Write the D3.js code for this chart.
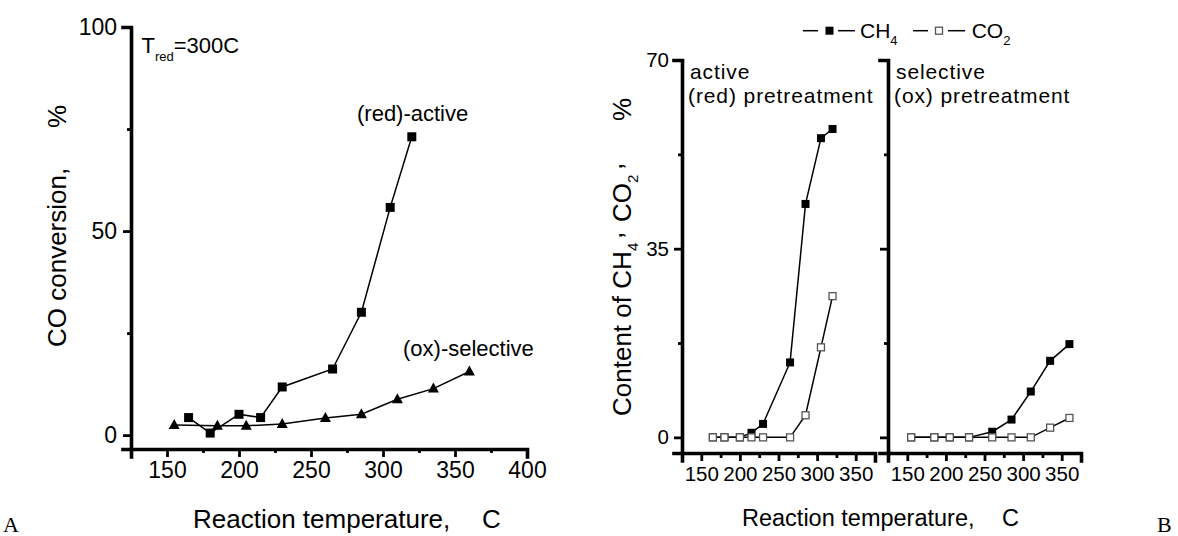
<!DOCTYPE html>
<html><head><meta charset="utf-8">
<script src="https://cdn.jsdelivr.net/npm/d3@7"></script>
<style>
html,body{margin:0;padding:0;background:#fff;}
svg{display:block;font-family:"Liberation Sans",Arial,sans-serif;}
</style></head>
<body><svg id="c" width="1178" height="536"></svg>
<script>
// ---------- DATA ----------
// Panel A: CO conversion (%)
const aRedTemps = [165,180,200,215,230,265,285,305,320];
const aRedConv  = [4.3,0.5,5.1,4.3,11.8,16.2,30.1,55.8,73.1];
const aOxTemps  = [155,185,205,230,260,285,310,335,360];
const aOxConv   = [2.5,2.3,2.3,2.7,4.2,5.1,8.8,11.4,15.6];
// Panel B: CH4 / CO2 content (%)
const bRedTemps = [165,180,200,215,230,265,285,305,320];
const bRedCH4   = [0,0,0,0.85,2.5,13.9,43.3,55.5,57.2];
const bRedCO2   = [0,0,0,0,0,0,4.1,16.7,26.2];
const bOxTemps  = [155,185,205,230,260,285,310,335,360];
const bOxCH4    = [0,0,0,0,1.05,3.3,8.5,14.2,17.3];
const bOxCO2    = [0,0,0,0,0,0,0,1.8,3.6];
// Tick labels
const aXTicks = [150,200,250,300,350,400];
const aYTicks = [0,50,100];
const bXTicks = [150,200,250,300,350];
const bYTicks = [0,35,70];

// ---------- DRAW ----------
const svg = d3.select("#c");

function styleAxis(g, fontSize, majors, majorLen, minorLen, dir){
  g.select(".domain").attr("stroke","#000").attr("stroke-width",3.6).attr("stroke-linecap","square");
  g.selectAll(".tick line").attr("stroke","#000").attr("stroke-width",2.8)
    .each(function(d){
      const len = majors.includes(d) ? majorLen : minorLen;
      if(dir==="x") d3.select(this).attr("y2", len);
      else d3.select(this).attr("x2", -len);
    });
  g.selectAll(".tick text").attr("fill","#000").attr("font-size",fontSize)
    .attr("font-family","Liberation Sans, Arial, sans-serif");
}

// ===== Panel A =====
const xA = d3.scaleLinear().domain([125,400]).range([131,527]);
const yA = d3.scaleLinear().domain([-3.4,100]).range([449,27]);

const gAx = svg.append("g").attr("transform","translate(0,449)")
  .call(d3.axisBottom(xA).tickValues(d3.range(125,401,25)).tickSizeOuter(0).tickSize(8).tickPadding(5)
  .tickFormat(d => aXTicks.includes(d) ? d : ""));
styleAxis(gAx, 23, aXTicks, 8, 4, "x");

const gAy = svg.append("g").attr("transform","translate(131,0)")
  .call(d3.axisLeft(yA).tickValues([0,25,50,75,100]).tickSizeOuter(0).tickSize(8).tickPadding(6)
  .tickFormat(d => aYTicks.includes(d) ? d : ""));
styleAxis(gAy, 23, aYTicks, 8, 4, "y");

const lineA = d3.line().x(d=>xA(d[0])).y(d=>yA(d[1]));
const aRed = aRedTemps.map((t,i)=>[t,aRedConv[i]]);
const aOx  = aOxTemps.map((t,i)=>[t,aOxConv[i]]);

svg.append("path").datum(aOx).attr("d",lineA).attr("fill","none").attr("stroke","#000").attr("stroke-width",1.5);
svg.append("path").datum(aRed).attr("d",lineA).attr("fill","none").attr("stroke","#000").attr("stroke-width",1.5);

svg.append("g").selectAll("path").data(aOx).join("path")
  .attr("d","M0,-6L5.5,4L-5.5,4Z")
  .attr("transform",d=>`translate(${xA(d[0])},${yA(d[1])})`).attr("fill","#000");
svg.append("g").selectAll("rect").data(aRed).join("rect")
  .attr("x",d=>xA(d[0])-4.5).attr("y",d=>yA(d[1])-4.5).attr("width",9).attr("height",9).attr("fill","#000");

// Panel A texts
const tr = svg.append("text").attr("x",141.5).attr("y",53.3).attr("font-size",22);
tr.append("tspan").text("T");
tr.append("tspan").attr("font-size",13).attr("dy",8).text("red");
tr.append("tspan").attr("dy",-8).text("=300C");
svg.append("text").attr("x",357).attr("y",121).attr("font-size",22).text("(red)-active");
svg.append("text").attr("x",403).attr("y",356).attr("font-size",22).text("(ox)-selective");
svg.append("text").attr("x",193).attr("y",528).attr("font-size",26).text("Reaction temperature,");
svg.append("text").attr("x",482).attr("y",528).attr("font-size",26).text("C");
const yta = svg.append("g").attr("transform","translate(66,347) rotate(-90)");
yta.append("text").attr("x",0).attr("y",0).attr("font-size",26).text("CO conversion,");
yta.append("text").attr("x",219).attr("y",0).attr("font-size",26).text("%");
svg.append("text").attr("x",3).attr("y",532).attr("font-size",22)
  .attr("font-family","Liberation Serif, Times New Roman, serif").text("A");

// ===== Panel B =====
const yB = d3.scaleLinear().domain([-2.9,70]).range([453,60]);
const panels = [
  {x0:682, x1:875, temps:bRedTemps, ch4:bRedCH4, co2:bRedCO2, labels:true,
   t1:"active", t2:"(red) pretreatment"},
  {x0:888, x1:1081, temps:bOxTemps, ch4:bOxCH4, co2:bOxCO2, labels:false,
   t1:"selective", t2:"(ox) pretreatment"}
];
panels.forEach(p=>{
  const x = d3.scaleLinear().domain([125,375]).range([p.x0,p.x1]);
  const gx = svg.append("g").attr("transform","translate(0,453)")
    .call(d3.axisBottom(x).tickValues(d3.range(125,376,25)).tickSizeOuter(0).tickSize(8).tickPadding(5)
    .tickFormat(d => bXTicks.includes(d) ? d : ""));
  styleAxis(gx, 20.5, bXTicks, 8, 5, "x");
  const gy = svg.append("g").attr("transform",`translate(${p.x0},0)`)
    .call(d3.axisLeft(yB).tickValues([0,17.5,35,52.5,70]).tickSizeOuter(0).tickSize(8).tickPadding(5)
    .tickFormat(d => (p.labels && bYTicks.includes(d)) ? d : ""));
  styleAxis(gy, 20.5, bYTicks, 8, 4, "y");

  const ln = d3.line().x(d=>x(d[0])).y(d=>yB(d[1]));
  const ch4 = p.temps.map((t,i)=>[t,p.ch4[i]]);
  const co2 = p.temps.map((t,i)=>[t,p.co2[i]]);
  svg.append("path").datum(ch4).attr("d",ln).attr("fill","none").attr("stroke","#000").attr("stroke-width",1.5);
  svg.append("g").selectAll("rect").data(ch4).join("rect")
    .attr("x",d=>x(d[0])-4).attr("y",d=>yB(d[1])-4).attr("width",8).attr("height",8).attr("fill","#000");
  svg.append("path").datum(co2).attr("d",ln).attr("fill","none").attr("stroke","#000").attr("stroke-width",1.5);
  svg.append("g").selectAll("rect").data(co2).join("rect")
    .attr("x",d=>x(d[0])-3.5).attr("y",d=>yB(d[1])-3.5).attr("width",7).attr("height",7)
    .attr("fill","#fff").attr("stroke","#555").attr("stroke-width",1.3);

  svg.append("text").attr("x",p.x0+8).attr("y",79).attr("font-size",21).attr("letter-spacing",0.9).text(p.t1);
  svg.append("text").attr("x",p.x0+6).attr("y",103).attr("font-size",21).attr("letter-spacing",0.9).text(p.t2);
});

// Legend
svg.append("line").attr("x1",803).attr("x2",818).attr("y1",30.7).attr("y2",30.7).attr("stroke","#000").attr("stroke-width",1.5);
svg.append("line").attr("x1",838).attr("x2",855).attr("y1",30.7).attr("y2",30.7).attr("stroke","#000").attr("stroke-width",1.5);
svg.append("rect").attr("x",825.5).attr("y",26.7).attr("width",8).attr("height",8).attr("fill","#000");
const l1 = svg.append("text").attr("x",860).attr("y",38.3).attr("font-size",21);
l1.append("tspan").text("CH");
l1.append("tspan").attr("font-size",13).attr("dy",6.5).text("4");
svg.append("line").attr("x1",913).attr("x2",928).attr("y1",30.7).attr("y2",30.7).attr("stroke","#000").attr("stroke-width",1.5);
svg.append("line").attr("x1",948).attr("x2",965).attr("y1",30.7).attr("y2",30.7).attr("stroke","#000").attr("stroke-width",1.5);
svg.append("rect").attr("x",935.5).attr("y",27.2).attr("width",7).attr("height",7).attr("fill","#fff").attr("stroke","#555").attr("stroke-width",1.3);
const l2 = svg.append("text").attr("x",971.7).attr("y",38.3).attr("font-size",21);
l2.append("tspan").text("CO");
l2.append("tspan").attr("font-size",13).attr("dy",6.5).text("2");

// Panel B axis titles
svg.append("text").attr("x",742).attr("y",526).attr("font-size",23.5).text("Reaction temperature,");
svg.append("text").attr("x",1002).attr("y",526).attr("font-size",23.5).text("C");
const ytb = svg.append("g").attr("transform","translate(631,416) rotate(-90)");
ytb.append("text").attr("x",0).attr("y",0).attr("font-size",26).text("Content of CH");
ytb.append("text").attr("x",165).attr("y",7).attr("font-size",15).text("4");
ytb.append("text").attr("x",177).attr("y",-9).attr("font-size",26).text(",");
ytb.append("text").attr("x",194).attr("y",0).attr("font-size",26).text("CO");
ytb.append("text").attr("x",233).attr("y",7).attr("font-size",15).text("2");
ytb.append("text").attr("x",246).attr("y",-9).attr("font-size",26).text(",");
ytb.append("text").attr("x",295).attr("y",0).attr("font-size",26).text("%");
svg.append("text").attr("x",1157).attr("y",532).attr("font-size",22)
  .attr("font-family","Liberation Serif, Times New Roman, serif").text("B");
</script></body></html>
